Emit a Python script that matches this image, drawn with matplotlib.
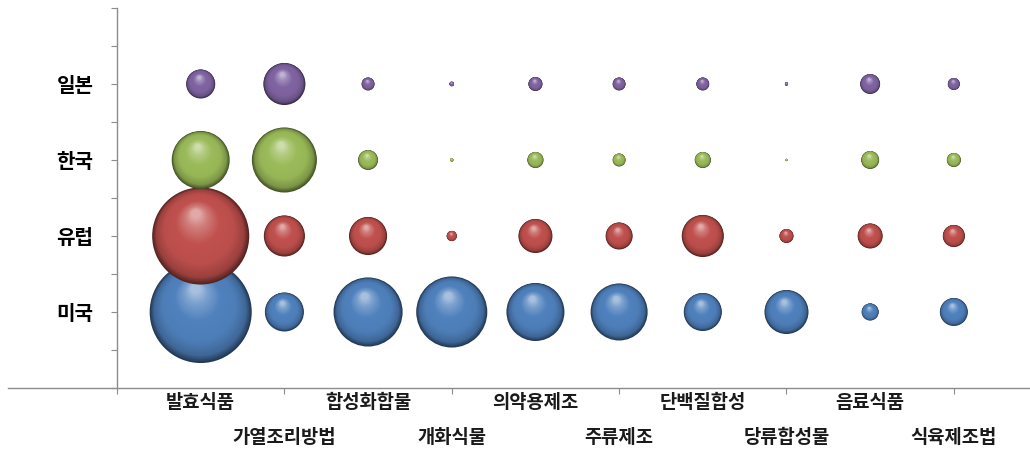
import matplotlib.pyplot as plt
import numpy as np
from matplotlib.path import Path
from matplotlib.markers import MarkerStyle

plt.rcParams['font.family'] = ['Noto Sans CJK KR', 'DejaVu Sans']

# data
categories = ['발효식품', '가열조리방법', '합성화합물', '개화식물', '의약용제조',
              '주류제조', '단백질합성', '당류합성물', '음료식품', '식육제조법']
countries = ['미국', '유럽', '한국', '일본']
usa = [1000, 146, 458, 485, 323, 312, 139, 186, 28, 75]
europe = [905, 162, 139, 10, 111, 70, 170, 19, 60, 47]
korea = [323, 406, 38, 1, 25, 16, 25, 0.5, 31, 19]
japan = [81, 170, 16, 2, 19, 16, 16, 1, 38, 14]
series = [usa, europe, korea, japan]
base_colors = ['#4f81bd', '#c0504d', '#9bbb59', '#8064a2']

################################################################################################

def sphere_marker(t, hx=-0.1, hy=0.45, r_end=0.1):
    # circle shrinking toward the highlight point, padded so every layer is scaled the same
    r = 1 - (1 - r_end) * t
    circ = Path.circle((hx * t, hy * t), r)
    verts = np.vstack([circ.vertices, [[-1, -1], [1, 1]]])
    codes = np.concatenate([circ.codes, [Path.MOVETO, Path.MOVETO]])
    return MarkerStyle(Path(verts, codes))


def shade(hex_color, t):
    rgb = np.array(plt.matplotlib.colors.to_rgb(hex_color))
    stops = [0.0, 0.1, 0.3, 0.6, 0.85, 1.0]
    cols = [rgb * 0.45, rgb * 0.8, rgb * 0.97, rgb * 1.0,
            rgb + (1 - rgb) * 0.25, rgb + (1 - rgb) * 0.5]
    cols = np.array(cols)
    return np.clip([np.interp(t, stops, cols[:, k]) for k in range(3)], 0, 1)


x = np.arange(1, len(categories) + 1)
size_scale = 5.4
n_layers = 40

fig = plt.figure(figsize=(10.3, 4.5), dpi=100)
ax = fig.add_axes([0.008, 62 / 450, 0.992, 380 / 450])

for i, (vals, col) in enumerate(zip(series, base_colors)):
    y = np.full(len(x), 2 * (i + 1))
    s = np.array(vals, dtype=float) * size_scale
    for j, t in enumerate(np.linspace(0, 1, n_layers)):
        ax.scatter(x, y, s=s, marker=sphere_marker(t), color=[shade(col, t)],
                   linewidths=0, zorder=3 + i * 0.1 + j * 0.001)

# axes limits and spines
ax.set_xlim(-1.30, 10.91)
ax.set_ylim(0, 10)
ax.spines['left'].set_position(('data', 0))
ax.spines['top'].set_visible(False)
ax.spines['right'].set_visible(False)
for sp in ['left', 'bottom']:
    ax.spines[sp].set_color('#8c8c8c')
    ax.spines[sp].set_linewidth(1.0)

# y ticks: every unit, labels only at country rows
yt = np.arange(0, 11, 1)
ax.set_yticks(yt)
ylabels = [''] * len(yt)
for i, c in enumerate(countries):
    ylabels[2 * (i + 1)] = c
ax.set_yticklabels(ylabels, fontsize=14.5, fontweight='bold', color='black')
ax.tick_params(axis='y', length=4, color='#8c8c8c', pad=13)

# x ticks every 2 units without labels
ax.set_xticks(np.arange(0, 11, 2))
ax.set_xticklabels([])
ax.tick_params(axis='x', length=4, color='#8c8c8c')

# staggered category labels
for xi, name in zip(x, categories):
    yy = -0.039 if xi % 2 == 1 else -0.129
    ax.text(xi, yy, name, transform=ax.get_xaxis_transform(), ha='center', va='center',
            fontsize=13.5, fontweight='bold', color='#1a1a1a')

fig.savefig('out.png', dpi=100)
plt.close(fig)
